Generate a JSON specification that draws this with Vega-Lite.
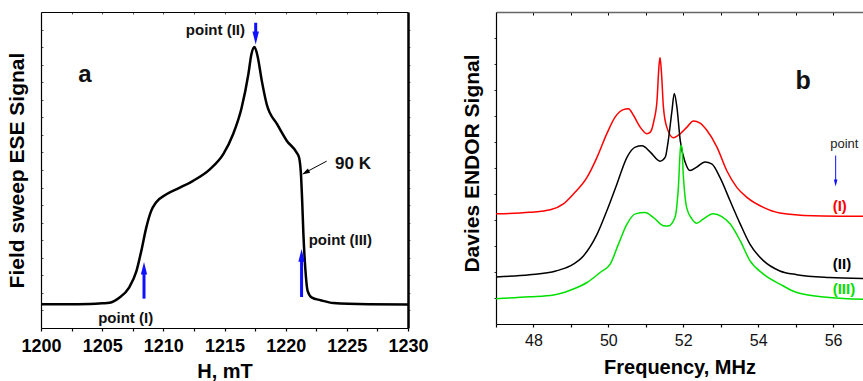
{
  "$schema": "https://vega.github.io/schema/vega-lite/v6.json",
  "background": "white",
  "padding": {"left": 6, "top": 11, "right": 0, "bottom": 0},
  "config": {"view": {"stroke": null}, "font": "Liberation Sans"},
  "spacing": 88,
  "bounds": "flush",
  "datasets": {
    "fs": [
      {"H": 1200, "S": 7.5}, {"H": 1202, "S": 7.5}, {"H": 1204, "S": 7.6}, {"H": 1205, "S": 7.8},
      {"H": 1205.6, "S": 8.0}, {"H": 1206.4, "S": 9.6}, {"H": 1207.2, "S": 12.8}, {"H": 1207.8, "S": 18},
      {"H": 1208.2, "S": 24.4}, {"H": 1208.6, "S": 31.7}, {"H": 1209.0, "S": 37}, {"H": 1209.4, "S": 39.7},
      {"H": 1210.25, "S": 42.3}, {"H": 1211.35, "S": 44.4}, {"H": 1212.4, "S": 46.5}, {"H": 1213.8, "S": 50.2},
      {"H": 1214.9, "S": 55}, {"H": 1215.7, "S": 61.3}, {"H": 1216.4, "S": 69.7}, {"H": 1216.95, "S": 80.3},
      {"H": 1217.2, "S": 86.6}, {"H": 1217.45, "S": 88.9}, {"H": 1217.7, "S": 86.1}, {"H": 1218.05, "S": 78.2},
      {"H": 1218.45, "S": 70.8}, {"H": 1219.3, "S": 64.5}, {"H": 1220.1, "S": 59.2}, {"H": 1220.9, "S": 55.5},
      {"H": 1221.1, "S": 53.9}, {"H": 1221.25, "S": 48.6}, {"H": 1221.35, "S": 40.2}, {"H": 1221.45, "S": 29.7},
      {"H": 1221.6, "S": 19.1}, {"H": 1221.8, "S": 11.7}, {"H": 1222.15, "S": 9.6}, {"H": 1222.85, "S": 8.8},
      {"H": 1223.9, "S": 7.9}, {"H": 1226.8, "S": 7.5}, {"H": 1230, "S": 7.4}
    ],
    "fsArrowsUp": [
      {"H": 1208.42, "y1": 9.3, "y2": 17.5, "yh": 18.9},
      {"H": 1221.3, "y1": 9.8, "y2": 21.8, "yh": 23.0}
    ],
    "fsArrowDown": [
      {"H": 1217.55, "y1": 96.6, "y2": 93.0, "yh": 91.8}
    ],
    "fsPointer": [
      {"H": 1223.35, "S": 52.8, "H2": 1221.8, "S2": 49.6}
    ],
    "fsPointerHead": [
      {"H": 1221.62, "S": 49.2}
    ],
    "fsLabels": [
      {"H": 1214.26, "S": 94.3, "text": "point (II)"},
      {"H": 1206.92, "S": 3.3, "text": "point (I)"},
      {"H": 1224.47, "S": 27.8, "text": "point (III)"}
    ],
    "fsTemp": [{"H": 1225.5, "S": 51.8, "text": "90 K"}],
    "fsPanel": [{"H": 1203.6, "S": 80.1, "text": "a"}],
    "endor": [
      {"f": 47.0, "s": 35.3, "series": "I"}, {"f": 47.9, "s": 35.8, "series": "I"}, {"f": 48.45, "s": 36.6, "series": "I"},
      {"f": 48.8, "s": 38.5, "series": "I"}, {"f": 49.07, "s": 41.7, "series": "I"}, {"f": 49.43, "s": 47.0, "series": "I"},
      {"f": 49.7, "s": 53.5, "series": "I"}, {"f": 49.96, "s": 61, "series": "I"}, {"f": 50.18, "s": 66.3, "series": "I"},
      {"f": 50.4, "s": 68.7, "series": "I"}, {"f": 50.54, "s": 69.0, "series": "I"}, {"f": 50.67, "s": 66.9, "series": "I"},
      {"f": 50.85, "s": 63.1, "series": "I"}, {"f": 51.03, "s": 61, "series": "I"}, {"f": 51.12, "s": 61.5, "series": "I"},
      {"f": 51.22, "s": 65.3, "series": "I"}, {"f": 51.3, "s": 71.7, "series": "I"}, {"f": 51.35, "s": 82.4, "series": "I"},
      {"f": 51.38, "s": 85.4, "series": "I"}, {"f": 51.42, "s": 80.3, "series": "I"}, {"f": 51.47, "s": 69.6, "series": "I"},
      {"f": 51.56, "s": 63.1, "series": "I"}, {"f": 51.74, "s": 59.7, "series": "I"}, {"f": 51.87, "s": 60.5, "series": "I"},
      {"f": 52.1, "s": 63.1, "series": "I"}, {"f": 52.27, "s": 65.1, "series": "I"}, {"f": 52.45, "s": 64.4, "series": "I"},
      {"f": 52.63, "s": 62.1, "series": "I"}, {"f": 52.9, "s": 56.7, "series": "I"}, {"f": 53.16, "s": 49.2, "series": "I"},
      {"f": 53.43, "s": 43.8, "series": "I"}, {"f": 53.7, "s": 40.6, "series": "I"}, {"f": 54.14, "s": 37.4, "series": "I"},
      {"f": 54.58, "s": 35.6, "series": "I"}, {"f": 55.47, "s": 34.7, "series": "I"}, {"f": 56.8, "s": 34.5, "series": "I"},

      {"f": 47.0, "s": 15.1, "series": "II"}, {"f": 47.9, "s": 15.8, "series": "II"}, {"f": 48.6, "s": 17.0, "series": "II"},
      {"f": 48.98, "s": 18.6, "series": "II"}, {"f": 49.34, "s": 21.9, "series": "II"}, {"f": 49.7, "s": 28.8, "series": "II"},
      {"f": 49.96, "s": 36.3, "series": "II"}, {"f": 50.23, "s": 44.9, "series": "II"}, {"f": 50.5, "s": 53.5, "series": "II"},
      {"f": 50.72, "s": 56.7, "series": "II"}, {"f": 50.9, "s": 57.1, "series": "II"}, {"f": 51.12, "s": 55.1, "series": "II"},
      {"f": 51.38, "s": 52.2, "series": "II"}, {"f": 51.52, "s": 53.5, "series": "II"}, {"f": 51.6, "s": 58.8, "series": "II"},
      {"f": 51.7, "s": 68.5, "series": "II"}, {"f": 51.76, "s": 73.9, "series": "II"}, {"f": 51.83, "s": 69.6, "series": "II"},
      {"f": 51.92, "s": 58.8, "series": "II"}, {"f": 52.05, "s": 51.9, "series": "II"}, {"f": 52.18, "s": 49.2, "series": "II"},
      {"f": 52.36, "s": 50.3, "series": "II"}, {"f": 52.58, "s": 51.9, "series": "II"}, {"f": 52.76, "s": 51.3, "series": "II"},
      {"f": 52.98, "s": 47.0, "series": "II"}, {"f": 53.25, "s": 39.5, "series": "II"}, {"f": 53.52, "s": 32.1, "series": "II"},
      {"f": 53.78, "s": 25.6, "series": "II"}, {"f": 54.14, "s": 20.3, "series": "II"}, {"f": 54.58, "s": 17.0, "series": "II"},
      {"f": 55.03, "s": 15.8, "series": "II"}, {"f": 55.9, "s": 14.9, "series": "II"}, {"f": 56.8, "s": 14.6, "series": "II"},

      {"f": 47.0, "s": 8.1, "series": "III"}, {"f": 47.9, "s": 8.7, "series": "III"}, {"f": 48.54, "s": 9.3, "series": "III"},
      {"f": 48.98, "s": 10.8, "series": "III"}, {"f": 49.43, "s": 13.3, "series": "III"}, {"f": 49.78, "s": 16.5, "series": "III"},
      {"f": 50.05, "s": 19.2, "series": "III"}, {"f": 50.27, "s": 25.6, "series": "III"}, {"f": 50.5, "s": 32.1, "series": "III"},
      {"f": 50.72, "s": 35.3, "series": "III"}, {"f": 50.98, "s": 35.7, "series": "III"}, {"f": 51.2, "s": 34.2, "series": "III"},
      {"f": 51.47, "s": 31.5, "series": "III"}, {"f": 51.6, "s": 31.4, "series": "III"}, {"f": 51.78, "s": 34.2, "series": "III"},
      {"f": 51.87, "s": 43.8, "series": "III"}, {"f": 51.93, "s": 56.7, "series": "III"}, {"f": 51.96, "s": 57.2, "series": "III"},
      {"f": 52.0, "s": 48.1, "series": "III"}, {"f": 52.09, "s": 37.4, "series": "III"}, {"f": 52.23, "s": 33.7, "series": "III"},
      {"f": 52.36, "s": 32.3, "series": "III"}, {"f": 52.54, "s": 33.7, "series": "III"}, {"f": 52.8, "s": 35.3, "series": "III"},
      {"f": 53.03, "s": 34.4, "series": "III"}, {"f": 53.25, "s": 32.1, "series": "III"}, {"f": 53.52, "s": 26.7, "series": "III"},
      {"f": 53.78, "s": 20.3, "series": "III"}, {"f": 54.14, "s": 16.0, "series": "III"}, {"f": 54.58, "s": 12.8, "series": "III"},
      {"f": 55.03, "s": 10.1, "series": "III"}, {"f": 55.9, "s": 8.5, "series": "III"}, {"f": 56.8, "s": 7.9, "series": "III"}
    ],
    "endorLabels": [
      {"f": 56.18, "s": 37.9, "series": "I", "text": "(I)"},
      {"f": 56.24, "s": 19.2, "series": "II", "text": "(II)"},
      {"f": 56.29, "s": 11.1, "series": "III", "text": "(III)"}
    ],
    "endorArrow": [{"f": 56.07, "y1": 54.0, "y2": 46.0, "yh": 45.2}],
    "endorPoint": [{"f": 56.3, "s": 57.8, "text": "point"}],
    "endorPanel": [{"f": 55.2, "s": 78, "text": "b"}]
  },
  "hconcat": [
    {
      "width": 367,
      "height": 316,
      "resolve": {"axis": {"x": "independent", "y": "independent"}},
      "layer": [
        {
          "data": {"name": "fs"},
          "mark": {"type": "line", "color": "black", "strokeWidth": 2.5, "interpolate": "monotone"},
          "encoding": {
            "x": {"field": "H", "type": "quantitative", "scale": {"domain": [1200, 1230], "nice": false, "zero": false},
              "axis": {"orient": "bottom", "title": "H, mT", "values": [1200, 1202.5, 1205, 1207.5, 1210, 1212.5, 1215, 1217.5, 1220, 1222.5, 1225, 1227.5, 1230],
                "labelExpr": "datum.value % 5 == 0 ? datum.label : ''", "format": "d", "labelOverlap": false, "labelFlush": false, "labelBound": false,
                "grid": false, "domainColor": "black", "domainWidth": 1.2, "tickColor": "black", "tickSize": 3, "tickWidth": 1.2,
                "labelFontSize": 18, "labelFontWeight": "bold", "labelColor": "black", "labelPadding": 6,
                "titleFontSize": 20, "titleFontWeight": "bold", "titleColor": "black", "titlePadding": 6}},
            "y": {"field": "S", "type": "quantitative", "scale": {"domain": [0, 100], "nice": false},
              "axis": {"orient": "left", "title": "Field sweep ESE Signal", "labels": false, "grid": false,
                "values": [5.556, 11.111, 16.667, 22.222, 27.778, 33.333, 38.889, 44.444, 50, 55.556, 61.111, 66.667, 72.222, 77.778, 83.333, 88.889, 94.444],
                "domainColor": "black", "domainWidth": 1.2, "tickColor": "#555", "tickSize": -2, "tickWidth": 1,
                "titleFontSize": 21, "titleFontWeight": "bold", "titleColor": "black", "titlePadding": 13}}
          }
        },
        {
          "data": {"name": "fs"},
          "mark": {"type": "line", "opacity": 0},
          "encoding": {
            "x": {"field": "H", "type": "quantitative", "scale": {"domain": [1200, 1230], "nice": false, "zero": false},
              "axis": {"orient": "top", "title": null, "labels": false, "grid": false,
                "values": [1202.5, 1205, 1207.5, 1210, 1212.5, 1215, 1217.5, 1220, 1222.5, 1225, 1227.5],
                "domainColor": "black", "domainWidth": 1.2, "tickColor": "#555", "tickSize": -2, "tickWidth": 1}},
            "y": {"field": "S", "type": "quantitative", "scale": {"domain": [0, 100], "nice": false},
              "axis": {"orient": "right", "title": null, "labels": false, "grid": false,
                "values": [5.556, 11.111, 16.667, 22.222, 27.778, 33.333, 38.889, 44.444, 50, 55.556, 61.111, 66.667, 72.222, 77.778, 83.333, 88.889, 94.444],
                "domainColor": "black", "domainWidth": 2.5, "tickColor": "#777", "tickSize": 2, "tickWidth": 1}}
          }
        },
        {
          "data": {"name": "fsArrowsUp"},
          "mark": {"type": "rule", "color": "#1010ff", "strokeWidth": 3},
          "encoding": {
            "x": {"field": "H", "type": "quantitative", "scale": {"domain": [1200, 1230], "nice": false, "zero": false}, "axis": null},
            "y": {"field": "y1", "type": "quantitative", "scale": {"domain": [0, 100], "nice": false}, "axis": null},
            "y2": {"field": "y2"}
          }
        },
        {
          "data": {"name": "fsArrowsUp"},
          "mark": {"type": "point", "shape": "M0,-1L0.5,1L-0.5,1Z", "filled": true, "color": "#1010ff", "opacity": 1, "size": 160},
          "encoding": {
            "x": {"field": "H", "type": "quantitative", "scale": {"domain": [1200, 1230], "nice": false, "zero": false}, "axis": null},
            "y": {"field": "yh", "type": "quantitative", "scale": {"domain": [0, 100], "nice": false}, "axis": null}
          }
        },
        {
          "data": {"name": "fsArrowDown"},
          "mark": {"type": "rule", "color": "#1010ff", "strokeWidth": 3},
          "encoding": {
            "x": {"field": "H", "type": "quantitative", "scale": {"domain": [1200, 1230], "nice": false, "zero": false}, "axis": null},
            "y": {"field": "y1", "type": "quantitative", "scale": {"domain": [0, 100], "nice": false}, "axis": null},
            "y2": {"field": "y2"}
          }
        },
        {
          "data": {"name": "fsArrowDown"},
          "mark": {"type": "point", "shape": "M0,1L0.5,-1L-0.5,-1Z", "filled": true, "color": "#1010ff", "opacity": 1, "size": 170},
          "encoding": {
            "x": {"field": "H", "type": "quantitative", "scale": {"domain": [1200, 1230], "nice": false, "zero": false}, "axis": null},
            "y": {"field": "yh", "type": "quantitative", "scale": {"domain": [0, 100], "nice": false}, "axis": null}
          }
        },
        {
          "data": {"name": "fsPointer"},
          "mark": {"type": "rule", "color": "black", "strokeWidth": 1},
          "encoding": {
            "x": {"field": "H", "type": "quantitative", "scale": {"domain": [1200, 1230], "nice": false, "zero": false}, "axis": null},
            "y": {"field": "S", "type": "quantitative", "scale": {"domain": [0, 100], "nice": false}, "axis": null},
            "x2": {"field": "H2"},
            "y2": {"field": "S2"}
          }
        },
        {
          "data": {"name": "fsPointerHead"},
          "mark": {"type": "point", "shape": "M0,-1L0.6,1L-0.6,1Z", "filled": true, "color": "black", "opacity": 1, "size": 64, "angle": 242},
          "encoding": {
            "x": {"field": "H", "type": "quantitative", "scale": {"domain": [1200, 1230], "nice": false, "zero": false}, "axis": null},
            "y": {"field": "S", "type": "quantitative", "scale": {"domain": [0, 100], "nice": false}, "axis": null}
          }
        },
        {
          "data": {"name": "fsLabels"},
          "mark": {"type": "text", "fontSize": 15, "fontWeight": "bold", "color": "#111", "align": "center", "baseline": "middle"},
          "encoding": {
            "x": {"field": "H", "type": "quantitative", "scale": {"domain": [1200, 1230], "nice": false, "zero": false}, "axis": null},
            "y": {"field": "S", "type": "quantitative", "scale": {"domain": [0, 100], "nice": false}, "axis": null},
            "text": {"field": "text"}
          }
        },
        {
          "data": {"name": "fsTemp"},
          "mark": {"type": "text", "fontSize": 17, "fontWeight": "bold", "color": "#111", "align": "center", "baseline": "middle"},
          "encoding": {
            "x": {"field": "H", "type": "quantitative", "scale": {"domain": [1200, 1230], "nice": false, "zero": false}, "axis": null},
            "y": {"field": "S", "type": "quantitative", "scale": {"domain": [0, 100], "nice": false}, "axis": null},
            "text": {"field": "text"}
          }
        },
        {
          "data": {"name": "fsPanel"},
          "mark": {"type": "text", "fontSize": 24, "fontWeight": "bold", "color": "#111", "align": "center", "baseline": "middle"},
          "encoding": {
            "x": {"field": "H", "type": "quantitative", "scale": {"domain": [1200, 1230], "nice": false, "zero": false}, "axis": null},
            "y": {"field": "S", "type": "quantitative", "scale": {"domain": [0, 100], "nice": false}, "axis": null},
            "text": {"field": "text"}
          }
        }
      ]
    },
    {
      "width": 367,
      "height": 312,
      "resolve": {"axis": {"x": "independent", "y": "independent"}},
      "layer": [
        {
          "data": {"name": "endor"},
          "mark": {"type": "line", "strokeWidth": 1.5, "interpolate": "monotone", "clip": true},
          "encoding": {
            "x": {"field": "f", "type": "quantitative", "scale": {"domain": [47, 56.8], "nice": false, "zero": false},
              "axis": {"orient": "bottom", "title": "Frequency, MHz", "values": [47, 48, 49, 50, 51, 52, 53, 54, 55, 56],
                "labelExpr": "datum.value % 2 == 0 ? datum.label : ''", "format": "d", "labelOverlap": false, "labelFlush": false, "labelBound": false,
                "grid": false, "domainColor": "black", "domainWidth": 1.2, "tickColor": "black", "tickSize": 3, "tickWidth": 1.2,
                "labelFontSize": 16, "labelFontWeight": "normal", "labelColor": "#111", "labelPadding": 5,
                "titleFontSize": 20, "titleFontWeight": "bold", "titleColor": "black", "titlePadding": 9}},
            "y": {"field": "s", "type": "quantitative", "scale": {"domain": [0, 100], "nice": false},
              "axis": {"orient": "left", "title": "Davies ENDOR Signal", "labels": false, "grid": false,
                "values": [8.333, 16.667, 25, 33.333, 41.667, 50, 58.333, 66.667, 75, 83.333, 91.667],
                "domainColor": "black", "domainWidth": 1.2, "tickColor": "#333", "tickSize": 2, "tickWidth": 1,
                "titleFontSize": 21, "titleFontWeight": "bold", "titleColor": "black", "titlePadding": 11, "titleY": 151}},
            "color": {"field": "series", "type": "nominal", "scale": {"domain": ["I", "II", "III"], "range": ["#ff0000", "#000000", "#00e000"]}, "legend": null},
            "detail": {"field": "series"}
          }
        },
        {
          "data": {"name": "endor"},
          "mark": {"type": "line", "opacity": 0},
          "encoding": {
            "x": {"field": "f", "type": "quantitative", "scale": {"domain": [47, 56.8], "nice": false, "zero": false},
              "axis": {"orient": "top", "title": null, "labels": false, "grid": false,
                "values": [48, 49, 50, 51, 52, 53, 54, 55, 56],
                "domainColor": "#666", "domainWidth": 1.5, "tickColor": "black", "tickSize": -3, "tickWidth": 1}},
            "y": {"field": "s", "type": "quantitative", "scale": {"domain": [0, 100], "nice": false}, "axis": null},
            "detail": {"field": "series"}
          }
        },
        {
          "data": {"name": "endorLabels"},
          "mark": {"type": "text", "fontSize": 15, "fontWeight": "bold", "align": "center", "baseline": "middle"},
          "encoding": {
            "x": {"field": "f", "type": "quantitative", "scale": {"domain": [47, 56.8], "nice": false, "zero": false}, "axis": null},
            "y": {"field": "s", "type": "quantitative", "scale": {"domain": [0, 100], "nice": false}, "axis": null},
            "color": {"field": "series", "type": "nominal", "scale": {"domain": ["I", "II", "III"], "range": ["#ff0000", "#000000", "#00e000"]}, "legend": null},
            "text": {"field": "text"}
          }
        },
        {
          "data": {"name": "endorArrow"},
          "mark": {"type": "rule", "color": "#1010ff", "strokeWidth": 1},
          "encoding": {
            "x": {"field": "f", "type": "quantitative", "scale": {"domain": [47, 56.8], "nice": false, "zero": false}, "axis": null},
            "y": {"field": "y1", "type": "quantitative", "scale": {"domain": [0, 100], "nice": false}, "axis": null},
            "y2": {"field": "y2"}
          }
        },
        {
          "data": {"name": "endorArrow"},
          "mark": {"type": "point", "shape": "M0,1L0.5,-1L-0.5,-1Z", "filled": true, "color": "#1010ff", "opacity": 1, "size": 50},
          "encoding": {
            "x": {"field": "f", "type": "quantitative", "scale": {"domain": [47, 56.8], "nice": false, "zero": false}, "axis": null},
            "y": {"field": "yh", "type": "quantitative", "scale": {"domain": [0, 100], "nice": false}, "axis": null}
          }
        },
        {
          "data": {"name": "endorPoint"},
          "mark": {"type": "text", "fontSize": 13, "color": "#222", "align": "center", "baseline": "middle"},
          "encoding": {
            "x": {"field": "f", "type": "quantitative", "scale": {"domain": [47, 56.8], "nice": false, "zero": false}, "axis": null},
            "y": {"field": "s", "type": "quantitative", "scale": {"domain": [0, 100], "nice": false}, "axis": null},
            "text": {"field": "text"}
          }
        },
        {
          "data": {"name": "endorPanel"},
          "mark": {"type": "text", "fontSize": 25, "fontWeight": "bold", "color": "#111", "align": "center", "baseline": "middle"},
          "encoding": {
            "x": {"field": "f", "type": "quantitative", "scale": {"domain": [47, 56.8], "nice": false, "zero": false}, "axis": null},
            "y": {"field": "s", "type": "quantitative", "scale": {"domain": [0, 100], "nice": false}, "axis": null},
            "text": {"field": "text"}
          }
        }
      ]
    }
  ]
}
